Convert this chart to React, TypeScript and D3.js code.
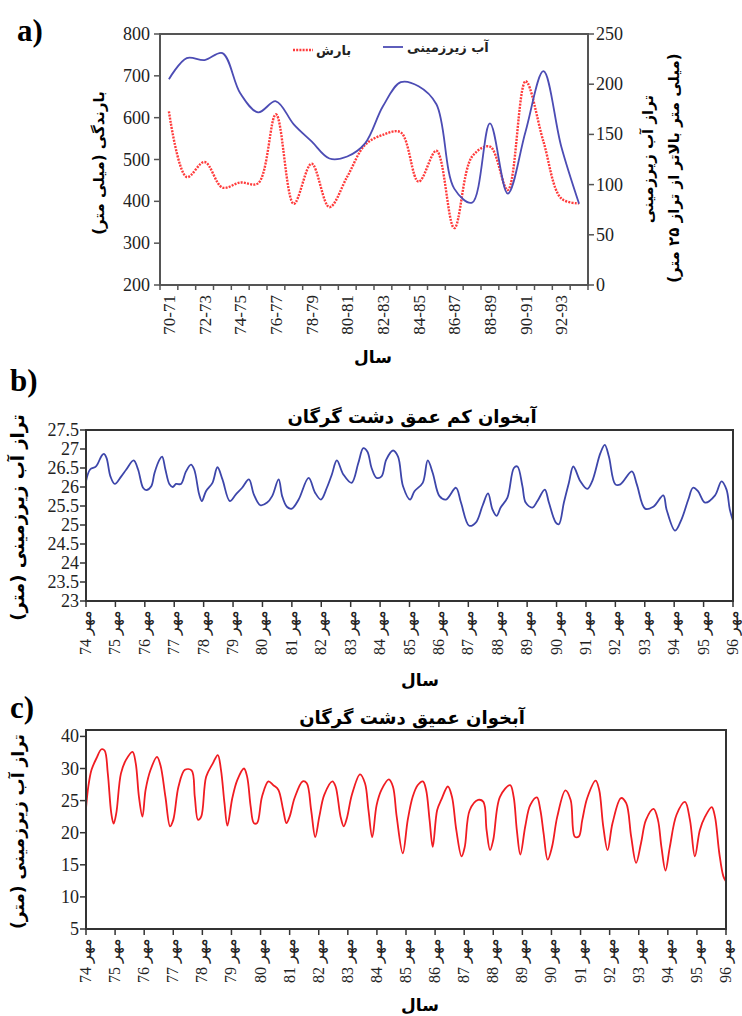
import React from 'react';
import * as d3 from 'd3';

// panel a: annual rainfall and groundwater level
const seasons = ['70-71', '71-72', '72-73', '73-74', '74-75', '75-76', '76-77', '77-78', '78-79', '79-80', '80-81', '81-82',
  '82-83', '83-84', '84-85', '85-86', '86-87', '87-88', '88-89', '89-90', '90-91', '91-92', '92-93', '93-94'];
const rainfall = [615, 458, 494, 433, 445, 443, 608, 394, 490, 386, 459, 535, 559, 565, 447, 521, 336, 507, 531, 427, 687, 543, 407, 395];
const groundwater = [205, 226, 224, 231, 191, 172, 183, 160, 143, 126, 128, 141, 178, 202, 198, 180, 96, 82, 161, 91, 153, 213, 138, 81];
const rainTicks = [200, 300, 400, 500, 600, 700, 800];
const gwTicks = [0, 50, 100, 150, 200, 250];

// panels b, c: monthly water table (year, metres)
const years = [74, 75, 76, 77, 78, 79, 80, 81, 82, 83, 84, 85, 86, 87, 88, 89, 90, 91, 92, 93, 94, 95, 96];
const shallowTicks = [23, 23.5, 24, 24.5, 25, 25.5, 26, 26.5, 27, 27.5];
const deepTicks = [5, 10, 15, 20, 25, 30, 35];
const deepTickLabels = ['5', '10', '15', '20', '25', '30', '40'];

const shallowLevel: [number, number][] = [
  [74, 26.15], [74.14, 26.46], [74.34, 26.54], [74.53, 26.82], [74.61, 26.87], [74.7, 26.76], [74.83, 26.28], [74.98, 26.08],
  [75.2, 26.28], [75.37, 26.46], [75.62, 26.7], [75.77, 26.46], [75.94, 25.98], [76.05, 25.92], [76.22, 26.02], [76.33, 26.37],
  [76.5, 26.72], [76.59, 26.8], [76.7, 26.46], [76.84, 26.07], [76.95, 26.0], [77.06, 26.08], [77.23, 26.08], [77.4, 26.41],
  [77.57, 26.59], [77.68, 26.46], [77.85, 25.8], [77.94, 25.63], [78.08, 25.89], [78.3, 26.11], [78.47, 26.52], [78.64, 26.2],
  [78.89, 25.63], [79.09, 25.8], [79.31, 25.98], [79.54, 26.2], [79.71, 25.8], [79.93, 25.52], [80.16, 25.59], [80.33, 25.76],
  [80.55, 26.2], [80.67, 25.76], [80.83, 25.48], [81.0, 25.43], [81.23, 25.67], [81.57, 26.24], [81.79, 25.85], [81.99, 25.67],
  [82.19, 25.98], [82.36, 26.33], [82.53, 26.7], [82.75, 26.33], [83.03, 26.11], [83.26, 26.63], [83.43, 27.02], [83.57, 26.93],
  [83.71, 26.5], [83.88, 26.24], [84.05, 26.28], [84.21, 26.72], [84.44, 26.96], [84.61, 26.8], [84.78, 26.02], [85.02, 25.67],
  [85.17, 25.89], [85.45, 26.11], [85.62, 26.7], [85.79, 26.37], [86.02, 25.76], [86.24, 25.67], [86.58, 25.98], [86.75, 25.59],
  [87.03, 24.98], [87.26, 25.07], [87.48, 25.5], [87.67, 25.83], [87.82, 25.41], [87.96, 25.24], [88.1, 25.46], [88.33, 25.72],
  [88.55, 26.5], [88.67, 26.54], [88.84, 26.02], [88.95, 25.59], [89.18, 25.46], [89.35, 25.63], [89.6, 25.93], [89.74, 25.59],
  [89.97, 25.07], [90.08, 25.02], [90.25, 25.59], [90.42, 26.11], [90.57, 26.54], [90.81, 26.15], [91.04, 25.95], [91.21, 26.15],
  [91.49, 26.89], [91.64, 27.11], [91.78, 26.8], [92.0, 26.07], [92.17, 26.07], [92.56, 26.41], [92.73, 26.07], [93.01, 25.43],
  [93.29, 25.48], [93.63, 25.78], [93.74, 25.41], [94.03, 24.85], [94.25, 25.15], [94.48, 25.67], [94.64, 25.98], [94.81, 25.89],
  [95.05, 25.59], [95.39, 25.78], [95.61, 26.15], [95.78, 25.93], [95.89, 25.41], [96.0, 25.11],
];

const deepLevel: [number, number][] = [
  [74, 23.8], [74.08, 27.2], [74.19, 29.8], [74.36, 31.6], [74.53, 33.0], [74.64, 32.8], [74.75, 29.2], [74.87, 23.0], [74.95, 21.4],
  [75.04, 23.0], [75.2, 29.2], [75.37, 31.3], [75.6, 32.6], [75.71, 30.8], [75.82, 25.6], [75.94, 22.5], [76.05, 26.7], [76.22, 29.8],
  [76.44, 31.8], [76.56, 30.5], [76.73, 25.6], [76.89, 21.0], [77.0, 22.0], [77.18, 27.2], [77.4, 29.8], [77.63, 29.7], [77.74, 25.6],
  [77.85, 22.0], [77.96, 22.5], [78.13, 28.7], [78.36, 30.8], [78.53, 32.1], [78.64, 29.8], [78.76, 24.6], [78.86, 21.1], [79.03, 25.4],
  [79.2, 28.2], [79.43, 30.0], [79.54, 28.7], [79.66, 24.1], [79.77, 21.5], [79.88, 21.5], [80.05, 25.6], [80.27, 28.0], [80.44, 27.4],
  [80.61, 26.7], [80.78, 23.5], [80.89, 21.5], [81.0, 22.5], [81.17, 25.4], [81.45, 28.0], [81.59, 27.7], [81.74, 23.5], [81.88, 19.3],
  [82.02, 22.5], [82.19, 25.9], [82.47, 28.0], [82.58, 27.2], [82.75, 22.5], [82.86, 21.0], [82.97, 22.3], [83.14, 25.9], [83.42, 29.1],
  [83.59, 27.7], [83.71, 23.5], [83.84, 19.3], [83.99, 24.3], [84.16, 26.7], [84.41, 28.3], [84.55, 27.2], [84.68, 22.5], [84.89, 16.8],
  [85.06, 22.0], [85.23, 25.6], [85.4, 27.4], [85.58, 28.0], [85.69, 26.7], [85.81, 22.0], [85.92, 17.8], [86.07, 23.5], [86.21, 25.1],
  [86.44, 27.2], [86.58, 25.6], [86.73, 20.4], [86.91, 16.3], [87.02, 17.8], [87.19, 23.5], [87.48, 25.1], [87.66, 24.8], [87.77, 20.4],
  [87.89, 17.3], [88.0, 18.9], [88.23, 25.6], [88.58, 27.4], [88.7, 25.6], [88.81, 20.4], [88.93, 16.6], [89.1, 21.0], [89.27, 24.3],
  [89.5, 25.5], [89.62, 23.5], [89.73, 19.9], [89.87, 15.8], [90.02, 17.8], [90.2, 22.5], [90.48, 26.6], [90.66, 25.1], [90.8, 19.4],
  [90.94, 19.4], [91.06, 22.0], [91.23, 25.4], [91.52, 28.1], [91.64, 26.7], [91.78, 21.0], [91.93, 17.3], [92.1, 21.5], [92.39, 25.4],
  [92.57, 24.6], [92.74, 19.4], [92.91, 15.3], [93.08, 18.4], [93.25, 22.0], [93.51, 23.7], [93.66, 22.0], [93.78, 17.8], [93.92, 14.1],
  [94.07, 17.8], [94.3, 22.8], [94.59, 24.8], [94.76, 22.0], [94.93, 16.3], [95.1, 20.4], [95.28, 22.5], [95.51, 24.0], [95.62, 22.5],
  [95.77, 16.8], [95.91, 13.2], [96.0, 12.4],
];

const SERIF = 'Liberation Serif, DejaVu Serif, serif';
const FA = 'DejaVu Sans, sans-serif';

const PanelA = () => {
  const L = 160, R = 588, T = 34, B = 285;
  const x = d3.scaleBand().domain(seasons).range([L, R]);
  const yL = d3.scaleLinear().domain([200, 800]).range([B, T]);
  const yR = d3.scaleLinear().domain([0, 250]).range([B, T]);
  const cx = (i: number) => (x(seasons[i]) as number) + x.bandwidth() / 2;

  const rainLine = d3.line<number>().x((d, i) => cx(i)).y(d => yL(d)).curve(d3.curveCatmullRom.alpha(0.5));
  const gwLine = d3.line<number>().x((d, i) => cx(i)).y(d => yR(d)).curve(d3.curveCatmullRom.alpha(0.5));
  const bounds = [...seasons.map(s => x(s) as number), R];

  return (
    <g>
      <text x={17} y={41} fontFamily={SERIF} fontWeight="bold" fontSize={31}>a)</text>
      <path d={rainLine(rainfall) || ''} fill="none" stroke="#ff3b3b" strokeWidth={2.4} strokeDasharray="2 1.2" />
      <path d={gwLine(groundwater) || ''} fill="none" stroke="#4c4cb4" strokeWidth={1.8} />
      <rect x={L} y={T} width={R - L} height={B - T} fill="none" stroke="#555" strokeWidth={2} />
      {rainTicks.map(t => (
        <g key={t}>
          <line x1={L - 6} x2={L} y1={yL(t)} y2={yL(t)} stroke="#555" strokeWidth={1.5} />
          <text x={L - 10} y={yL(t) + 6} textAnchor="end" fontFamily={SERIF} fontSize={18} fill="#222">{t}</text>
        </g>
      ))}
      {gwTicks.map(t => (
        <g key={t}>
          <line x1={R} x2={R + 6} y1={yR(t)} y2={yR(t)} stroke="#555" strokeWidth={1.5} />
          <text x={R + 8} y={yR(t) + 6} fontFamily={SERIF} fontSize={18} fill="#222">{t}</text>
        </g>
      ))}
      {bounds.map((b, i) => (
        <line key={i} x1={b} x2={b} y1={B} y2={B + 5} stroke="#555" strokeWidth={1.5} />
      ))}
      {seasons.map((s, i) => i % 2 === 0 && (
        <text key={s} transform={`translate(${cx(i) + 6},${B + 10}) rotate(-90)`} textAnchor="end"
          fontFamily={SERIF} fontSize={17} fill="#222">{s}</text>
      ))}
      {/* legend */}
      <line x1={293} x2={313} y1={50} y2={50} stroke="#ff3b3b" strokeWidth={2.4} strokeDasharray="2 1.2" />
      <text x={316} y={55} fontFamily={FA} fontWeight="bold" fontSize={13} fill="#222">بارش</text>
      <line x1={383} x2={403} y1={47} y2={47} stroke="#4c4cb4" strokeWidth={1.8} />
      <text x={407} y={52} fontFamily={FA} fontWeight="bold" fontSize={13} fill="#222">آب زیرزمینی</text>
      {/* axis titles */}
      <text transform="translate(104,163) rotate(-90)" textAnchor="middle" fontFamily={FA} fontWeight="bold" fontSize={15}>بارندگی (میلی متر)</text>
      <text transform="translate(653,159) rotate(-90)" textAnchor="middle" fontFamily={FA} fontWeight="bold" fontSize={15}>تراز آب زیرزمینی</text>
      <text transform="translate(679,168) rotate(-90)" textAnchor="middle" fontFamily={FA} fontWeight="bold" fontSize={15}>(میلی متر بالاتر از تراز ۲۵ متر)</text>
      <text x={373} y={363} textAnchor="middle" fontFamily={FA} fontWeight="bold" fontSize={17}>سال</text>
    </g>
  );
};

type SeriesProps = {
  tag: string; title: string; data: [number, number][]; color: string;
  L: number; R: number; T: number; B: number; domain: [number, number];
  ticks: number[]; tickLabels: string[]; tagY: number; titleY: number; xTitleY: number; yTitleSize: number;
};

const SeriesPanel = (p: SeriesProps) => {
  const x = d3.scaleLinear().domain([74, 96]).range([p.L, p.R]);
  const y = d3.scaleLinear().domain(p.domain).range([p.B, p.T]);
  const line = d3.line<[number, number]>().x(d => x(d[0])).y(d => y(d[1])).curve(d3.curveCatmullRom.alpha(0.5));
  const mid = (p.T + p.B) / 2;
  return (
    <g>
      <text x={10} y={p.tagY} fontFamily={SERIF} fontWeight="bold" fontSize={31}>{p.tag}</text>
      <text x={412} y={p.titleY} textAnchor="middle" fontFamily={FA} fontWeight="bold" fontSize={18}>{p.title}</text>
      <path d={line(p.data) || ''} fill="none" stroke={p.color} strokeWidth={1.8} />
      <rect x={p.L} y={p.T} width={p.R - p.L} height={p.B - p.T} fill="none" stroke="#333" strokeWidth={2} />
      {p.ticks.map((t, i) => (
        <g key={t}>
          <line x1={p.L - 6} x2={p.L} y1={y(t)} y2={y(t)} stroke="#333" strokeWidth={1.5} />
          <text x={p.L - 7} y={y(t) + 6} textAnchor="end" fontFamily={SERIF} fontSize={18} fill="#222">{p.tickLabels[i]}</text>
        </g>
      ))}
      {years.map(yr => (
        <g key={yr}>
          <line x1={x(yr)} x2={x(yr)} y1={p.B} y2={p.B + 6} stroke="#333" strokeWidth={1.5} />
          <text transform={`translate(${x(yr) + 5},${p.B + 9}) rotate(-90)`} textAnchor="end"
            fontFamily={SERIF} fontSize={16} fill="#222">{`${yr} مهر`}</text>
        </g>
      ))}
      <text transform={`translate(24,${mid + 2}) rotate(-90)`} textAnchor="middle" fontFamily={FA} fontWeight="bold" fontSize={p.yTitleSize}>تراز آب زیرزمینی (متر)</text>
      <text x={420} y={p.xTitleY} textAnchor="middle" fontFamily={FA} fontWeight="bold" fontSize={17}>سال</text>
    </g>
  );
};

export default function App() {
  return (
    <svg width={742} height={1016} style={{ position: 'absolute', left: 0, top: 0, background: '#fff' }}>
      <rect width={742} height={1016} fill="#fff" />
      <PanelA />
      <SeriesPanel tag="b)" title="آبخوان کم عمق دشت گرگان" data={shallowLevel} color="#3d46aa"
        L={86} R={733} T={430} B={601} domain={[23, 27.5]} ticks={shallowTicks}
        tickLabels={shallowTicks.map(String)} tagY={391} titleY={423} xTitleY={686} yTitleSize={18} />
      <SeriesPanel tag="c)" title="آبخوان عمیق دشت گرگان" data={deepLevel} color="#f01c22"
        L={86} R={726} T={730} B={929} domain={[5, 36]} ticks={deepTicks}
        tickLabels={deepTickLabels} tagY={718} titleY={724} xTitleY={1011} yTitleSize={17} />
    </svg>
  );
}
